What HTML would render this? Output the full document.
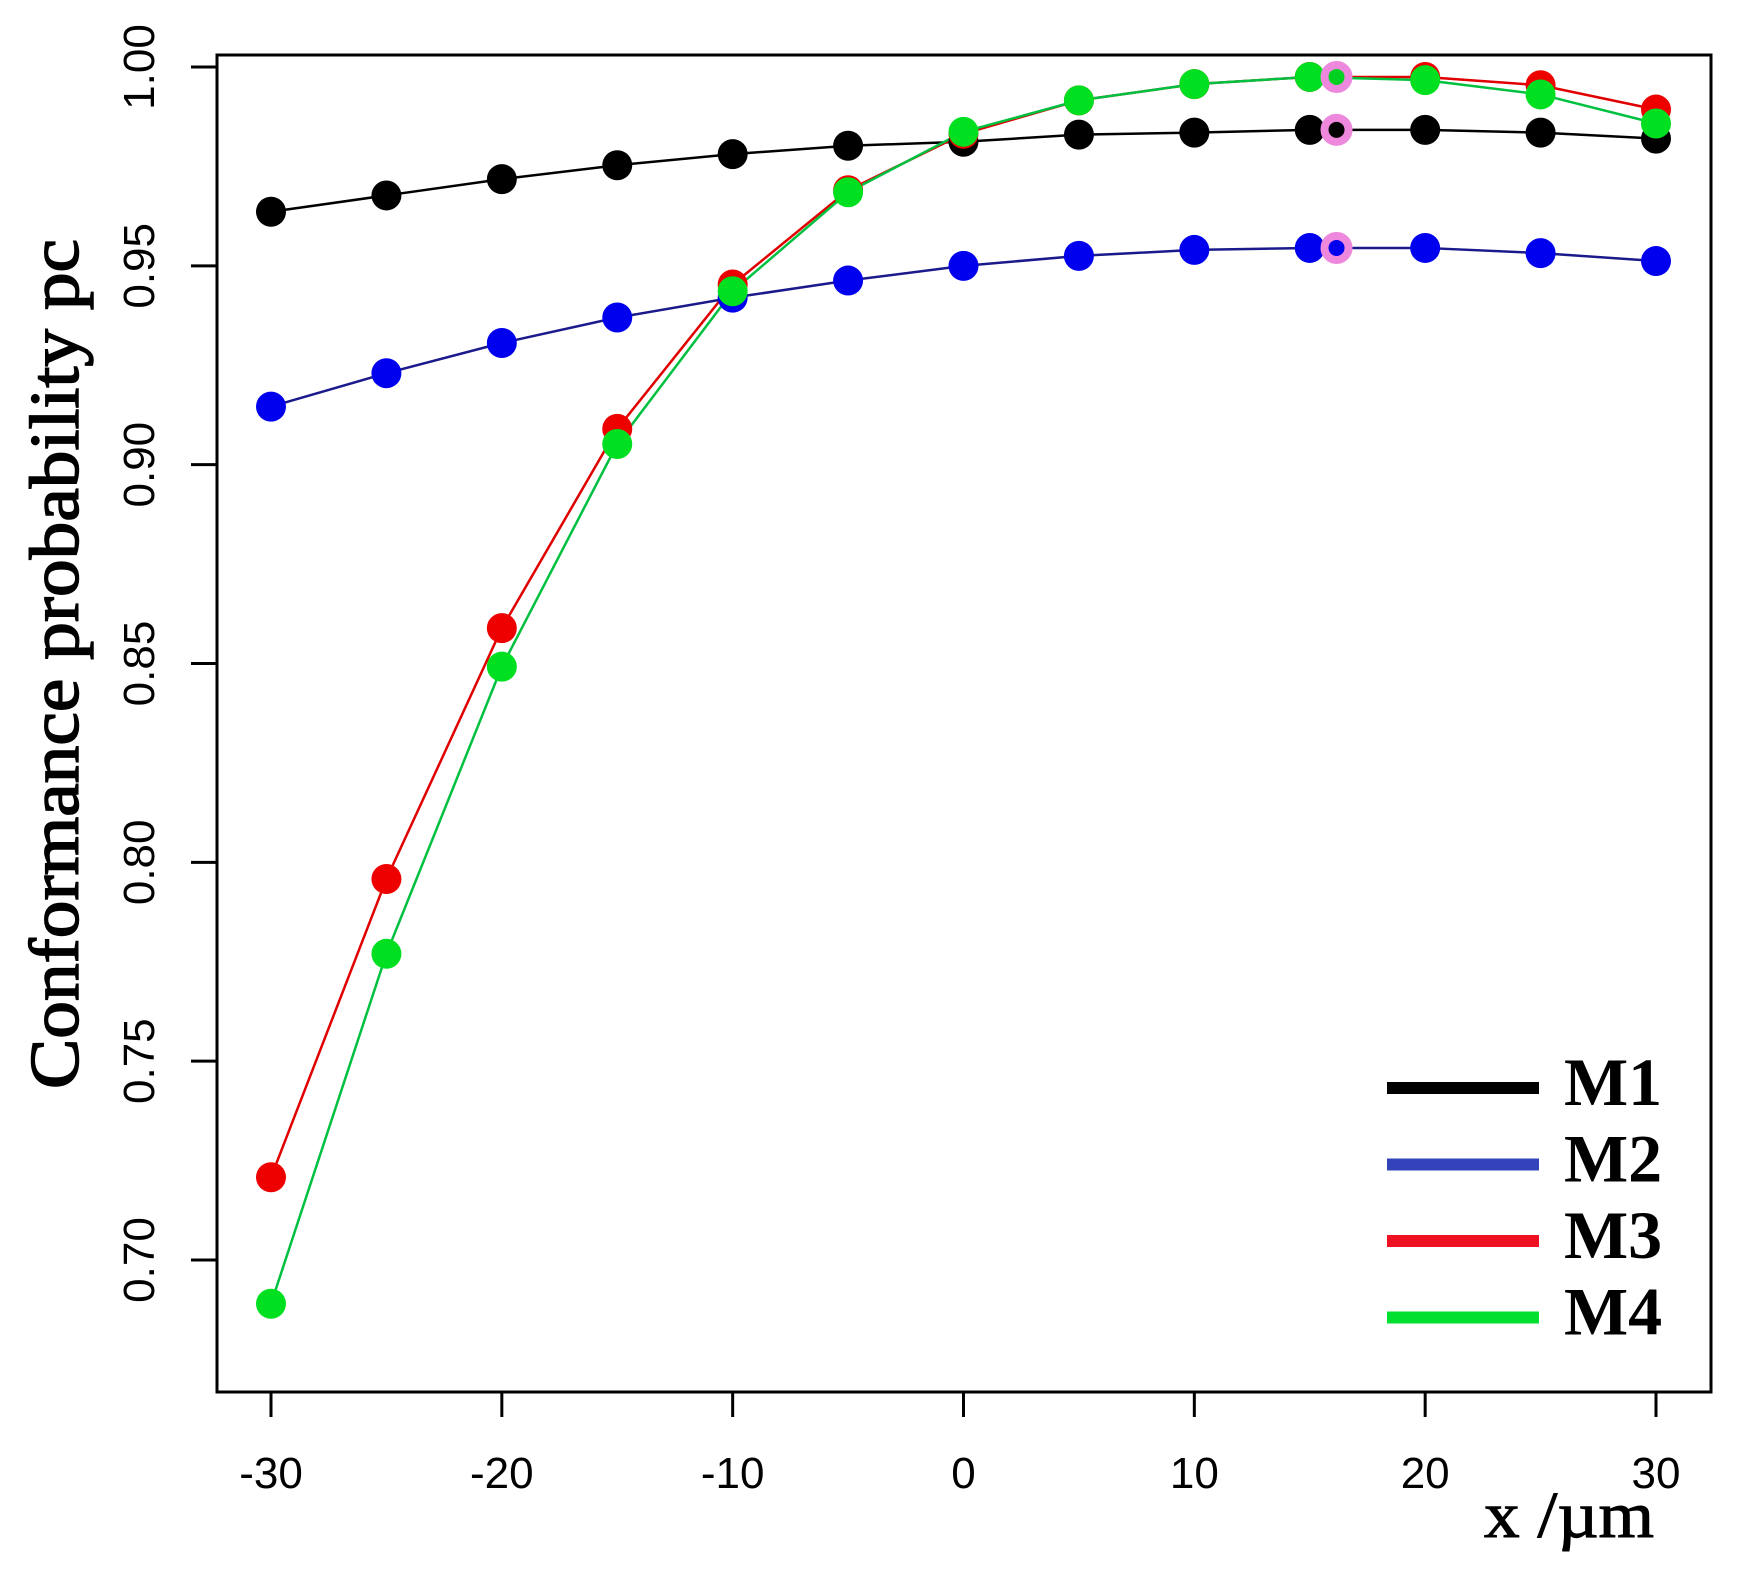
<!DOCTYPE html>
<html><head><meta charset="utf-8"><style>
html,body{margin:0;padding:0;background:#fff;}
svg{display:block;}
</style></head><body>
<svg id="chart" width="1745" height="1587" viewBox="0 0 1745 1587" xmlns="http://www.w3.org/2000/svg">
<rect x="0" y="0" width="1745" height="1587" fill="#fff"/>
<g id="plot"></g>
<rect x="217" y="55" width="1494" height="1337" fill="none" stroke="#000" stroke-width="3"/>
<text x="0" y="0" transform="translate(78,664) rotate(-90)" text-anchor="middle" font-family="Liberation Serif, serif" font-size="70" stroke="#000" stroke-width="1.5" textLength="850" lengthAdjust="spacingAndGlyphs">Conformance probability pc</text>
<text x="1569" y="1537" text-anchor="middle" font-family="Liberation Serif, serif" font-size="66" stroke="#000" stroke-width="1" textLength="170" lengthAdjust="spacingAndGlyphs">x /µm</text>
<g id="legend"></g>
</svg>
<script>
const xValues = [-30,-25,-20,-15,-10,-5,0,5,10,15,20,25,30];
const m1 = [0.9636,0.9677,0.9718,0.9753,0.9781,0.9802,0.9812,0.9830,0.9835,0.9842,0.9842,0.9835,0.9820];
const m2 = [0.9146,0.9230,0.9306,0.9370,0.9420,0.9463,0.9500,0.9525,0.9540,0.9545,0.9545,0.9532,0.9512];
const m3 = [0.7208,0.7958,0.8589,0.9090,0.9453,0.9690,0.9832,0.9916,0.9957,0.9975,0.9975,0.9954,0.9893];
const m4 = [0.6890,0.7770,0.8492,0.9052,0.9436,0.9685,0.9837,0.9916,0.9957,0.9975,0.9967,0.9931,0.9858];
const seriesNames = ["M1","M2","M3","M4"];
const optimumX = 16.16;
const optimumM1 = 0.9842;
const optimumM2 = 0.9545;
const optimumM4 = 0.9975;
const xTicks = [-30,-20,-10,0,10,20,30];
const yTicks = [0.70,0.75,0.80,0.85,0.90,0.95,1.00];
const yTickLabels = ["0.70","0.75","0.80","0.85","0.90","0.95","1.00"];

const NS = "http://www.w3.org/2000/svg";
function sx(v){ return 271 + (v + 30) * (1656 - 271) / 60; }
function sy(v){ return 67 + (1.0 - v) * (1260 - 67) / 0.30; }
function mk(tag, attrs){ const e = document.createElementNS(NS, tag); for (const k in attrs) e.setAttribute(k, attrs[k]); return e; }

const svg = document.getElementById('chart');
const plot = document.getElementById('plot');
const legend = document.getElementById('legend');

xTicks.forEach((t) => {
  const l = mk('line', {x1: sx(t), x2: sx(t), y1: 1392, y2: 1417, stroke: '#000', 'stroke-width': 3});
  
  
  svg.appendChild(l);
  const tx = mk('text', {x: sx(t), y: 1488, 'text-anchor': 'middle', 'font-family': 'Liberation Sans, sans-serif', 'font-size': 44});
  tx.textContent = String(t);
  
  
  svg.appendChild(tx);
});
yTicks.forEach((t, i) => {
  const l = mk('line', {x1: 191, x2: 217, y1: sy(t), y2: sy(t), stroke: '#000', 'stroke-width': 3});
  
  
  svg.appendChild(l);
  const tx = mk('text', {x: 0, y: 0, transform: 'translate(154,' + sy(t) + ') rotate(-90)', 'text-anchor': 'middle', 'font-family': 'Liberation Sans, sans-serif', 'font-size': 44});
  tx.textContent = yTickLabels[i];
  
  
  svg.appendChild(tx);
});

const seriesData = [m1, m2, m3, m4];
const lineColors = ['#000000', '#1a1a8c', '#e00000', '#00c040'];
const markColors = ['#000000', '#0000ee', '#ee0000', '#00e020'];
const legendColors = ['#000000', '#3344bb', '#ee1122', '#00e030'];

seriesData.forEach((vals, si) => {
  const pts = vals.map((v, i) => sx(xValues[i]) + ',' + sy(v)).join(' ');
  const pl = mk('polyline', {points: pts, fill: 'none', stroke: lineColors[si], 'stroke-width': 2.5});
  
  
  plot.appendChild(pl);
});
seriesData.forEach((vals, si) => {
  vals.forEach((v, i) => {
    const c = mk('circle', {cx: sx(xValues[i]), cy: sy(v), r: 15, fill: markColors[si]});
    
    
    plot.appendChild(c);
  });
});
[[optimumM1, '#000000'], [optimumM2, '#0000ee'], [optimumM4, '#00d020']].forEach((p) => {
  const c = mk('circle', {cx: sx(optimumX), cy: sy(p[0]), r: 12, fill: p[1], stroke: '#ee88dd', 'stroke-width': 8});
  
  
  plot.appendChild(c);
});

seriesNames.forEach((n, i) => {
  const y = 1088 + i * 76.5;
  const l = mk('line', {x1: 1387, x2: 1539, y1: y, y2: y, stroke: legendColors[i], 'stroke-width': 12});
  
  
  legend.appendChild(l);
  const t = mk('text', {x: 1564, y: y + 17, 'font-family': 'Liberation Serif, serif', 'font-weight': 'bold', 'font-size': 68});
  t.textContent = n;
  
  
  legend.appendChild(t);
});
</script>
</body></html>
